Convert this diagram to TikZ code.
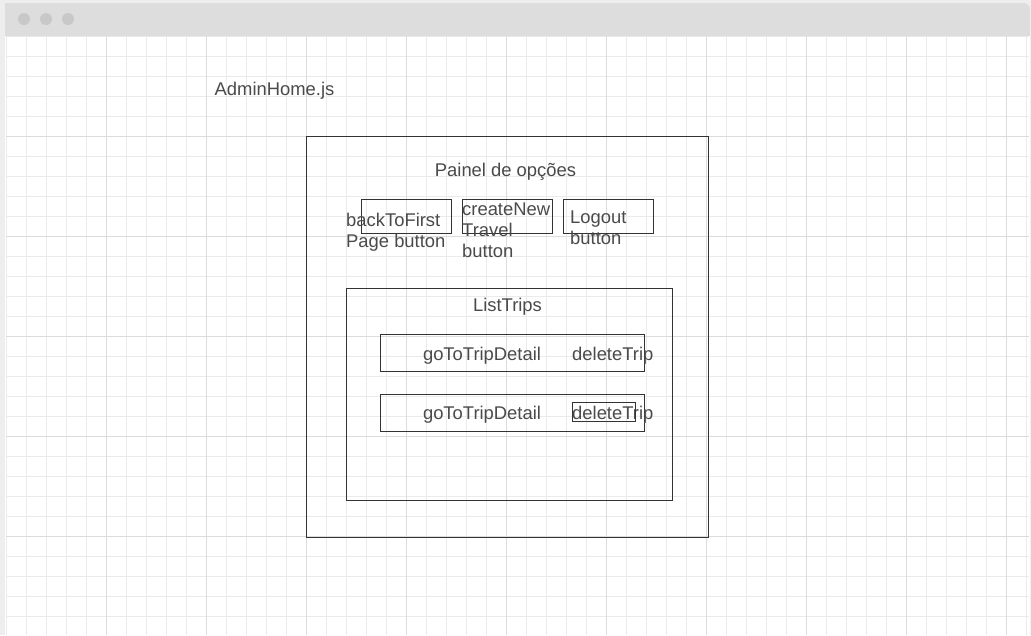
\documentclass[tikz,border=0pt]{standalone}
\usepackage{fontspec}
\setmainfont{Liberation Sans}
\definecolor{frame}{HTML}{EEEEEE}
\definecolor{bar}{HTML}{DDDDDD}
\definecolor{dot}{HTML}{C8C8C8}
\definecolor{gridminor}{HTML}{EBEBEB}
\definecolor{gridmajor}{HTML}{DCDCDC}
\definecolor{ink}{HTML}{333333}
\definecolor{txt}{HTML}{4A4A4A}
\begin{document}
\begin{tikzpicture}[x=1pt,y=-1pt,
  lbl/.style={inner sep=0pt, text=txt, font=\fontsize{18.4}{21}\selectfont},
  multi/.style={lbl, align=left, anchor=west},
  wbox/.style={draw=ink, line width=1.1pt, fill=none, inner sep=0pt, outer sep=0pt, anchor=north west}]
\useasboundingbox (0,0) rectangle (1031,635);
% window frame and title bar
\fill[frame] (0,0) rectangle (1031,635);
\fill[white, rounded corners=6pt] (5,3) rectangle (1030,660);
\begin{scope}
\clip (6,36) rectangle (1029,635);
\foreach \x in {6.7,26.7,...,1026.7} \draw[gridminor, line width=1pt] (\x,36) -- (\x,635);
\foreach \y in {36.7,56.7,...,636} \draw[gridminor, line width=1pt] (6,\y) -- (1029,\y);
\foreach \x in {106.7,206.7,...,1006.7} \draw[gridmajor, line width=1pt] (\x,36) -- (\x,635);
\foreach \y in {136.7,236.7,...,536.7} \draw[gridmajor, line width=1pt] (6,\y) -- (1029,\y);
\end{scope}
\fill[bar, rounded corners=6pt] (5,3) -- (1030,3) -- (1030,36) [sharp corners] -- (5,36) -- cycle;
\fill[bar] (5,20) rectangle (1030,36);
\foreach \x/\n in {24/a,46/b,68/c} \fill[dot] (\x,19) circle (6);

% file label
\node[lbl] (file) at (274.5,90.5) {AdminHome.js};

% options panel
\node[wbox, minimum width=402pt, minimum height=401pt] (panel) at (306.5,136.5) {};
\node[lbl] (paneltitle) at (505.5,171.5) {Painel de opções};
\node[wbox, minimum width=90pt, minimum height=34pt] (b1) at (361.5,199.5) {};
\node[wbox, minimum width=90pt, minimum height=34pt] (b2) at (462.5,199.5) {};
\node[wbox, minimum width=90pt, minimum height=34pt] (b3) at (563.5,199.5) {};
\node[multi] (t1) at (346,232) {backToFirst\\Page button};
\node[multi] (t2) at (462,230.5) {createNew\\Travel\\button};
\node[multi] (t3) at (570,228) {Logout\\button};

% trip list
\node[wbox, minimum width=326pt, minimum height=212pt] (list) at (346.5,288.5) {};
\node[lbl] (listtitle) at (507.5,306.5) {ListTrips};
\node[wbox, minimum width=264pt, minimum height=37pt] (row1) at (380.5,334.5) {};
\node[wbox, minimum width=264pt, minimum height=37pt] (row2) at (380.5,394.5) {};
\node[lbl] (go1) at (482,355.5) {goToTripDetail};
\node[lbl, anchor=west] (del1) at (572,355.5) {deleteTrip};
\node[lbl] (go2) at (482,414.5) {goToTripDetail};
\node[lbl, anchor=west] (del2) at (572,414.5) {deleteTrip};
\node[wbox, minimum width=63pt, minimum height=19pt] (delbox) at (572.5,402.5) {};
\end{tikzpicture}
\end{document}
